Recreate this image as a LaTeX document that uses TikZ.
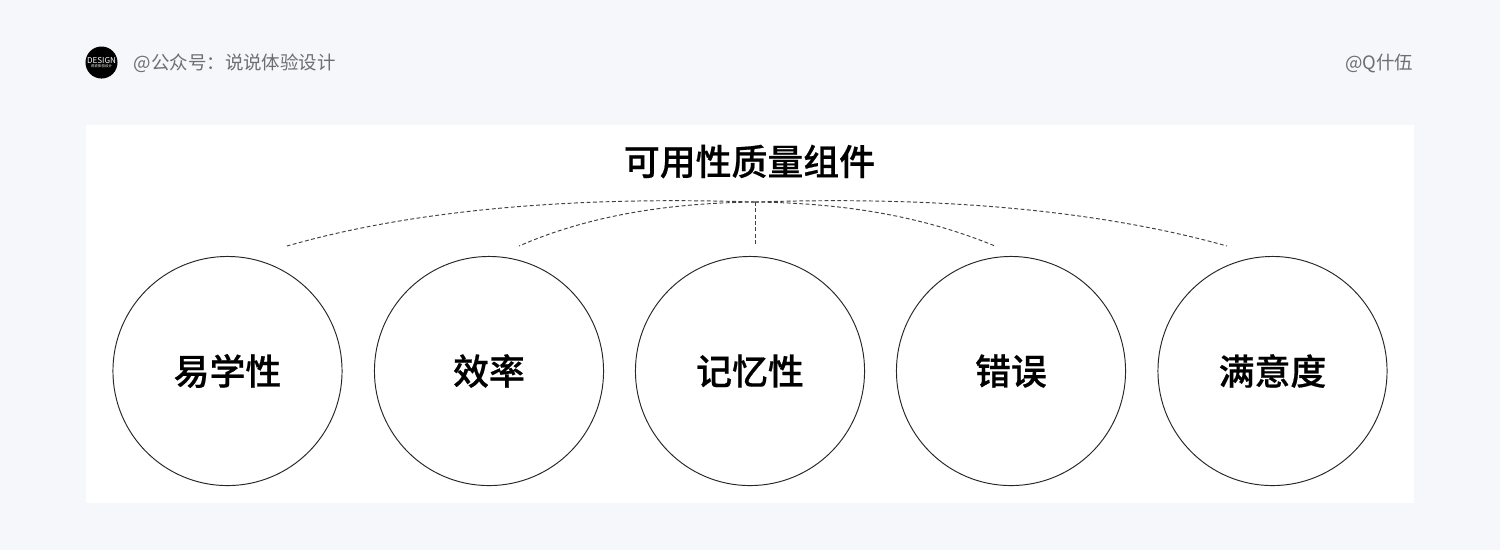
\documentclass[tikz,border=0pt]{standalone}
\usepackage{fontspec}
\setmainfont[BoldFont={Noto Sans CJK SC Medium}, BoldFeatures={FakeBold=0.5}]{Noto Sans CJK SC}
\definecolor{pagebg}{HTML}{F6F7FB}
\definecolor{headgray}{HTML}{6E6E6E}
\tikzset{
	item/.style={circle, draw=black!85, line width=0.27pt, fill=white, minimum size=2.29cm, inner sep=0pt, font=\fontsize{10.2}{12}\bfseries},
	link/.style={black!75, line width=0.27pt, dash pattern=on 1.1pt off 0.7pt},
	head/.style={headgray, font=\fontsize{5.25}{6}\selectfont, inner sep=0pt}
}

\begin{document}
\begin{tikzpicture}[x=0.01cm, y=-0.01cm]
	\useasboundingbox (0, 0) rectangle (1500, 550);
	\fill[pagebg] (0, 0) rectangle (1500, 550);
	\fill[white] (86, 125) rectangle (1414, 503);

	% header
	\node[circle, fill=black, minimum size=0.32cm, inner sep=0pt] (logo) at (101.5, 62.5) {};
	\node[white, font=\fontsize{2.3}{2}\selectfont, inner sep=0pt] (logotext) at (101.5, 60.5) {DESIGN};
	\node[white, font=\fontsize{1}{1}\selectfont, inner sep=0pt] (logosub) at (101.5, 66) {说说体验设计};
	\node[head, anchor=west] (account) at (133, 63) {@公众号：说说体验设计};
	\node[head, anchor=east] (writer) at (1414, 63) {@Q什伍};

	\node[font=\fontsize{10.2}{12}\bfseries, inner sep=0pt] (title) at (749.5, 161.5) {可用性质量组件};

	% circles
	\node[item] (learn) at (227.5, 371) {易学性};
	\node[item] (speed) at (489, 371) {效率};
	\node[item] (memory) at (750, 371) {记忆性};
	\node[item] (errors) at (1011, 371) {错误};
	\node[item] (satisfied) at (1272.5, 371) {满意度};

	% links
	\coordinate (hub) at (755, 202);
	\coordinate (endA) at (287, 246);
	\coordinate (endB) at (519, 246);
	\coordinate (endC) at (755, 246);
	\coordinate (endD) at (995, 246);
	\coordinate (endE) at (1227, 246);
	\draw[link] (hub) .. controls (600, 197) and (430, 205) .. (endA);
	\draw[link] (hub) .. controls (670, 203) and (590, 215) .. (endB);
	\draw[link] (hub) -- (endC);
	\draw[link] (hub) .. controls (840, 203) and (920, 215) .. (endD);
	\draw[link] (hub) .. controls (910, 197) and (1080, 205) .. (endE);
\end{tikzpicture}
\end{document}
